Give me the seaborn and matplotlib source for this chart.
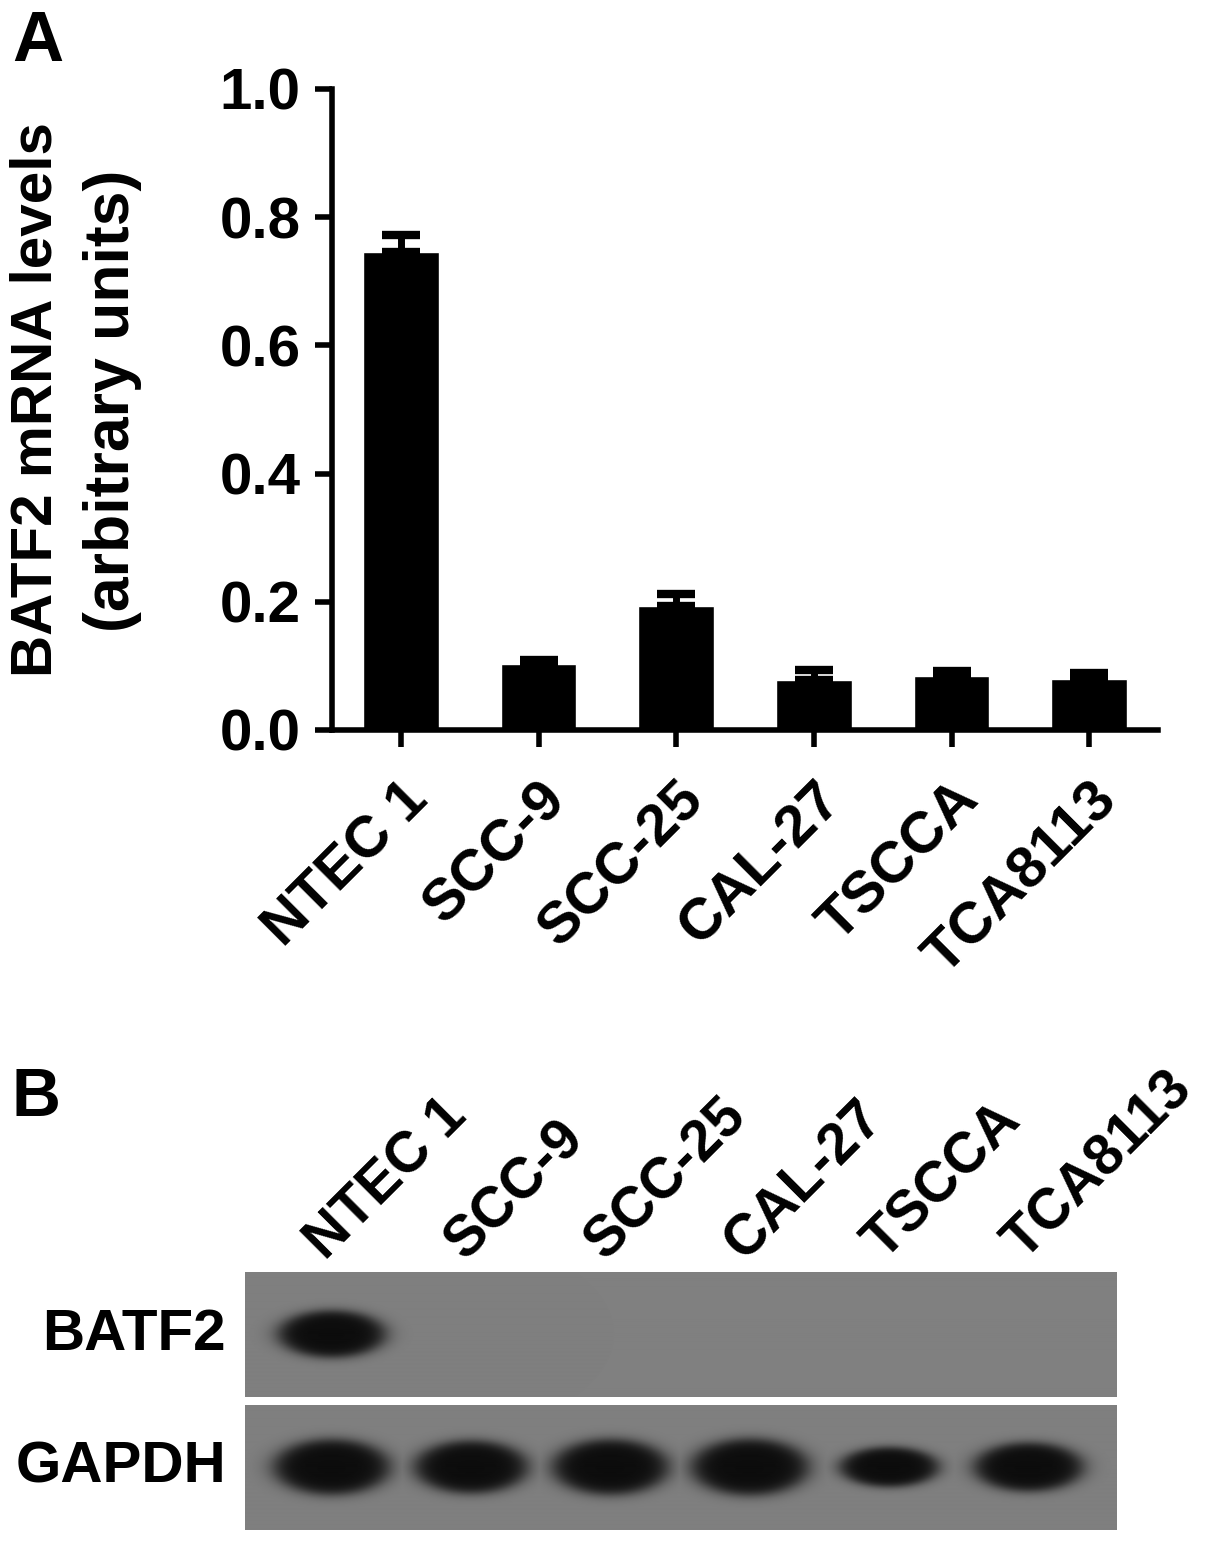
import numpy as np
import seaborn as sns
import matplotlib.pyplot as plt
from matplotlib.transforms import blended_transform_factory

# dados do grafico A (qPCR)
cell_lines = ["NTEC 1", "SCC-9", "SCC-25", "CAL-27", "TSCCA", "TCA8113"]
mrna_mean = [0.746, 0.1025, 0.193, 0.078, 0.084, 0.080]
mrna_sem = [0.027, 0.007, 0.019, 0.016, 0.008, 0.009]
y_ticks = [0.0, 0.2, 0.4, 0.6, 0.8, 1.0]

# dados do western blot (intensidade relativa das bandas)
blot_rows = ["BATF2", "GAPDH"]
batf2_signal = [0.85, 0.0, 0.0, 0.0, 0.0, 0.0]
gapdh_signal = [1.0, 0.95, 1.0, 1.02, 0.72, 0.88]

sns.set_style("ticks")
plt.rcParams["font.family"] = ["Liberation Sans", "DejaVu Sans"]
plt.rcParams["font.weight"] = "bold"
for k in ["text.color", "axes.labelcolor", "xtick.color", "ytick.color", "axes.edgecolor"]:
    plt.rcParams[k] = "black"

W, H = 1205, 1545
fig = plt.figure(figsize=(W / 100, H / 100), dpi=100)


def fx(px):
    return px / W


def fy(py):
    return 1 - py / H


# ---------- painel A ----------
ax = fig.add_axes([fx(332), fy(730), fx(1158) - fx(332), fy(89) - fy(730)])
sns.barplot(x=cell_lines, y=mrna_mean, color="black", width=0.55,
            errorbar=None, ax=ax, saturation=1)
ax.errorbar(range(len(cell_lines)), mrna_mean,
            yerr=[np.zeros(len(mrna_sem)), mrna_sem],
            fmt="none", ecolor="black", elinewidth=5, capsize=14, capthick=6)
ax.set_xlim(-0.5, 5.5)
ax.set_ylim(0, 1.0)
ax.set_yticks(y_ticks)
ax.set_yticklabels([f"{t:.1f}" for t in y_ticks], fontsize=42, fontweight="bold")
ax.set_xticks(range(len(cell_lines)))
ax.set_xticklabels(cell_lines, fontsize=42, fontweight="bold",
                   rotation=45, ha="right", va="top", rotation_mode="anchor")
ax.tick_params(axis="both", width=4, length=12.5, color="black")
ax.tick_params(axis="y", pad=10)
ax.tick_params(axis="x", pad=18)
for s in ["left", "bottom"]:
    ax.spines[s].set_linewidth(4)
    ax.spines[s].set_color("black")
sns.despine(ax=ax)
ax.set_xlabel("")
ax.set_ylabel("")

fig.text(fx(37), fy(400), "BATF2 mRNA levels", rotation=90, ha="center", va="center",
         fontsize=42, fontweight="bold")
fig.text(fx(113), fy(401), "(arbitrary units)", rotation=90, ha="center", va="center",
         fontsize=45, fontweight="bold")
fig.text(fx(12), fy(10), "A", ha="left", va="top", fontsize=51, fontweight="bold")

# ---------- painel B ----------
fig.text(fx(12), fy(1066), "B", ha="left", va="top", fontsize=49, fontweight="bold")

x0, x1 = -0.62, 5.63
bg = 0.50


def blot_image(signal, npx=125, nx=872):
    xs = np.linspace(x0, x1, nx)
    ys = np.linspace(-npx / 2, npx / 2, npx)
    X, Y = np.meshgrid(xs, ys)
    dark = np.zeros_like(X)
    for i, s in enumerate(signal):
        if s <= 0:
            continue
        hw = 0.48 * np.sqrt(s)
        hh = 32 * s
        r = np.sqrt(((X - i) / hw) ** 2 + (Y / hh) ** 2)
        dark = np.maximum(dark, 1 / (1 + np.exp((r - 0.85) / 0.1)))
    return bg - (bg - 0.05) * dark


panels = [(1272, 1397, batf2_signal), (1405, 1530, gapdh_signal)]
blot_axes = []
for (top, bot, sig), name in zip(panels, blot_rows):
    bax = fig.add_axes([fx(245), fy(bot), fx(1117) - fx(245), fy(top) - fy(bot)])
    bax.imshow(blot_image(sig), cmap="gray", vmin=0, vmax=1, aspect="auto",
               extent=[x0, x1, 0, 1], interpolation="bilinear")
    bax.set_xticks([])
    bax.set_yticks([])
    for s in bax.spines.values():
        s.set_visible(False)
    fig.text(fx(226), fy((top + bot) / 2), name, ha="right", va="center",
             fontsize=42, fontweight="bold")
    blot_axes.append(bax)

bt = blended_transform_factory(blot_axes[0].transData, blot_axes[0].transAxes)
for i, name in enumerate(cell_lines):
    blot_axes[0].text(i - 0.04, 1 + 10 / 125, name, transform=bt, rotation=45,
                      ha="left", va="baseline", rotation_mode="anchor",
                      fontsize=41, fontweight="bold")

fig.savefig("out.png", dpi=100, facecolor="white")
